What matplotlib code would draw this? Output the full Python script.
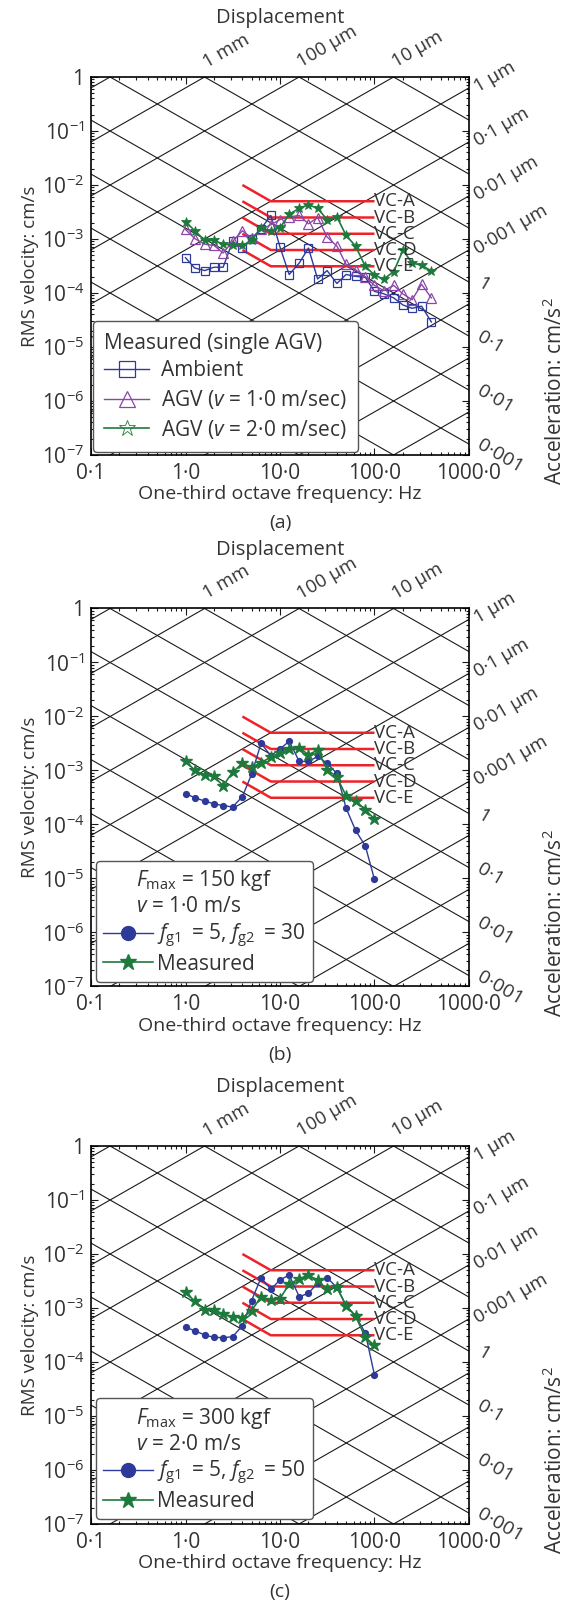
import matplotlib.pyplot as plt
import numpy as np
from matplotlib.ticker import LogLocator, FuncFormatter, NullFormatter

plt.rcParams['font.family'] = ['Open Sans', 'DejaVu Sans']
plt.rcParams['mathtext.fontset'] = 'custom'
plt.rcParams['mathtext.rm'] = 'Open Sans'
plt.rcParams['mathtext.it'] = 'Open Sans:italic'
plt.rcParams['mathtext.bf'] = 'Open Sans:bold'
plt.rcParams['text.color'] = '#333333'
plt.rcParams['axes.labelcolor'] = '#333333'
plt.rcParams['xtick.labelcolor'] = '#333333'
plt.rcParams['ytick.labelcolor'] = '#333333'

# one-third octave band centre frequencies (Hz)
freq = [1, 1.25, 1.6, 2, 2.5, 3.15, 4, 5, 6.3, 8, 10, 12.5, 16, 20, 25,
        31.5, 40, 50, 63, 80, 100, 125, 160, 200, 250, 315, 400]
freq_100 = freq[:21]

# (a) measured, single AGV  (RMS velocity, cm/s)
ambient = [4.5e-4, 2.9e-4, 2.6e-4, 3.0e-4, 3.0e-4, 9.0e-4, 6.8e-4, 9.9e-4, 1.55e-3,
           2.73e-3, 7.1e-4, 2.2e-4, 3.6e-4, 6.8e-4, 1.82e-4, 2.6e-4, 1.5e-4, 2.2e-4,
           2.03e-4, 1.95e-4, 1.07e-4, 9.7e-5, 8.1e-5, 6.0e-5, 5.2e-5, 5.7e-5, 2.9e-5]
agv_1 = [1.5e-3, 1.02e-3, 8.0e-4, 7.6e-4, 5.5e-4, 9.0e-4, 1.42e-3, 1.05e-3, 1.5e-3,
         1.83e-3, 2.29e-3, 2.57e-3, 2.73e-3, 1.91e-3, 2.5e-3, 1.09e-3, 7.4e-4, 3.4e-4,
         2.7e-4, 2.0e-4, 1.38e-4, 1.11e-4, 1.38e-4, 9.6e-5, 7.5e-5, 1.45e-4, 8.1e-5]
agv_2 = [2.1e-3, 1.43e-3, 9.4e-4, 9.4e-4, 8.1e-4, 7.6e-4, 7.6e-4, 9.4e-4, 1.58e-3,
         1.43e-3, 1.62e-3, 2.87e-3, 3.7e-3, 4.3e-3, 3.7e-3, 2.29e-3, 2.57e-3, 1.17e-3,
         7.4e-4, 3.1e-4, 2.15e-4, 1.8e-4, 2.5e-4, 6.2e-4, 3.6e-4, 3.26e-4, 2.57e-4]

# (b) Fmax = 150 kgf, v = 1.0 m/s
model_b = [3.74e-4, 3.14e-4, 2.71e-4, 2.41e-4, 2.24e-4, 2.11e-4, 3.28e-4, 8.5e-4,
           3.18e-3, 1.88e-3, 2.5e-3, 3.48e-3, 1.47e-3, 1.47e-3, 1.82e-3, 1.36e-3,
           8.8e-4, 2.02e-4, 7.8e-5, 4.0e-5, 9.6e-6]
meas_b = [1.51e-3, 1.01e-3, 8.1e-4, 7.8e-4, 5.2e-4, 9.3e-4, 1.36e-3, 1.14e-3, 1.4e-3,
          1.77e-3, 2.11e-3, 2.45e-3, 2.63e-3, 1.96e-3, 2.38e-3, 1.04e-3, 7.6e-4,
          3.39e-4, 2.71e-4, 1.88e-4, 1.26e-4]

# (c) Fmax = 300 kgf, v = 2.0 m/s
model_c = [4.4e-4, 3.8e-4, 3.16e-4, 2.86e-4, 2.82e-4, 2.94e-4, 4.7e-4, 1.37e-3,
           3.64e-3, 2.22e-3, 3.3e-3, 4.08e-3, 1.62e-3, 1.87e-3, 2.9e-3, 3.64e-3,
           2.4e-3, 1.12e-3, 7.1e-4, 3.45e-4, 5.7e-5]
meas_c = [2.01e-3, 1.33e-3, 9.3e-4, 9.3e-4, 7.7e-4, 6.9e-4, 6.6e-4, 8.9e-4, 1.61e-3,
          1.39e-3, 1.49e-3, 2.78e-3, 3.47e-3, 4.08e-3, 3.27e-3, 2.23e-3, 2.4e-3,
          1.11e-3, 7.1e-4, 2.85e-4, 2.03e-4]

# vibration criterion curves: flat velocity from 8 to 100 Hz, constant acceleration below 8 Hz
vc_names = ['VC-A', 'VC-B', 'VC-C', 'VC-D', 'VC-E']
vc_levels = [5e-3, 2.5e-3, 1.25e-3, 6.25e-4, 3.125e-4]
vc_freq = [4, 8, 100]

# tripartite grid: constant displacement (cm) and constant acceleration (cm/s^2)
disp_lines = 10.0 ** np.arange(-11, 3)
acc_lines = 10.0 ** np.arange(-5, 7)
top_labels = {'1 mm': 0.1, '100 µm': 0.01, '10 µm': 0.001}
disp_labels = {'1 µm': 1e-4, '0·1 µm': 1e-5, '0·01 µm': 1e-6, '0·001 µm': 1e-7}
acc_labels = {'1': 1.0, '0·1': 0.1, '0·01': 0.01, '0·001': 0.001}

xtick_text = {0.1: '0·1', 1: '1·0', 10: '10·0', 100: '100·0', 1000: '1000·0'}

blue = '#2d3a9a'
purple = '#8a46a8'
green = '#1d7a3c'
red = '#ee2229'
ink = '#333333'
fs = 15


def yfmt(v, pos):
    e = int(round(np.log10(v)))
    if e == 0:
        return '1'
    return r'10$^{%d}$' % e


def xfmt(v, pos):
    for k, s in xtick_text.items():
        if abs(v - k) < 1e-9 * max(k, 1):
            return s
    return ''


def base_panel(ax, tag):
    ax.set_xscale('log')
    ax.set_yscale('log')
    ax.set_xlim(0.1, 1000)
    ax.set_ylim(1e-7, 1)

    fx = np.array([0.1, 1000.0])
    for d in disp_lines:
        ax.plot(fx, 2 * np.pi * fx * d, color='#1a1a1a', lw=0.8, zorder=1)
    for a in acc_lines:
        ax.plot(fx, a / (2 * np.pi * fx), color='#1a1a1a', lw=0.8, zorder=1)

    for name, lev in zip(vc_names, vc_levels):
        vv = [lev * 8 / f if f < 8 else lev for f in vc_freq]
        ax.plot(vc_freq, vv, color=red, lw=1.8, zorder=2, solid_capstyle='butt')
        ax.annotate(name, xy=(100, lev), xytext=(0, 0), textcoords='offset points',
                    ha='left', va='center', fontsize=13.5, color=ink, zorder=5)

    ax.xaxis.set_major_locator(LogLocator(base=10, numticks=10))
    ax.xaxis.set_minor_locator(LogLocator(base=10, subs=np.arange(2, 10), numticks=100))
    ax.yaxis.set_major_locator(LogLocator(base=10, numticks=20))
    ax.yaxis.set_minor_locator(LogLocator(base=10, subs=np.arange(2, 10), numticks=100))
    ax.xaxis.set_major_formatter(FuncFormatter(xfmt))
    ax.yaxis.set_major_formatter(FuncFormatter(yfmt))
    ax.xaxis.set_minor_formatter(NullFormatter())
    ax.yaxis.set_minor_formatter(NullFormatter())
    ax.tick_params(which='both', direction='in', top=True, right=True, width=0.8,
                   color='#1a1a1a')
    ax.tick_params(which='major', length=5, labelsize=fs)
    ax.tick_params(axis='x', which='major', pad=5.5)
    ax.tick_params(axis='y', which='major', pad=5)
    ax.tick_params(which='minor', length=2.5)
    for sp in ax.spines.values():
        sp.set_linewidth(1.2)

    ax.set_xlabel('One-third octave frequency: Hz', fontsize=14, labelpad=1)
    ax.set_ylabel('RMS velocity: cm/s', fontsize=13.5, labelpad=2)

    ax.text(0.5, 1.155, 'Displacement', transform=ax.transAxes, ha='center',
            va='center', fontsize=14.5)
    for s, d in top_labels.items():
        ax.annotate(s, xy=(1 / (2 * np.pi * d), 1), xytext=(3, 4),
                    textcoords='offset points', ha='left', va='bottom',
                    rotation=30, rotation_mode='anchor', fontsize=13.5,
                    annotation_clip=False)
    for s, d in disp_labels.items():
        ax.annotate(s, xy=(1000, 2 * np.pi * 1000 * d), xytext=(5, 0),
                    textcoords='offset points', ha='left', va='center',
                    rotation=30, rotation_mode='anchor', fontsize=13.5,
                    annotation_clip=False)
    for s, a in acc_labels.items():
        ax.annotate(s, xy=(1000, a / (2 * np.pi * 1000)), xytext=(7, 0),
                    textcoords='offset points', ha='left', va='center',
                    rotation=-30, rotation_mode='anchor', fontsize=14,
                    annotation_clip=False)
    ax.text(1.228, 0.168, 'Acceleration: cm/s$^2$', transform=ax.transAxes,
            rotation=90, ha='center', va='center', fontsize=fs)
    ax.text(0.5, -0.18, tag, transform=ax.transAxes, ha='center', va='center',
            fontsize=14)


fig = plt.figure(figsize=(5.66, 16.02), dpi=100)
left, width, height = 0.1608, 0.6678, 0.23596
ax_a = fig.add_axes([left, 0.71598, width, height])
ax_b = fig.add_axes([left, 0.38421, width, height])
ax_c = fig.add_axes([left, 0.04869, width, height])

# (a)
base_panel(ax_a, '(a)')
ax_a.plot(freq, ambient, '-s', color=blue, mfc='none', ms=6, mew=0.9, lw=1,
          zorder=3, label='Ambient')
ax_a.plot(freq, agv_1, '-^', color=purple, mfc='none', ms=6.5, mew=0.9, lw=1,
          zorder=3, label='AGV ($v$ = 1·0 m/sec)')
ax_a.plot(freq, agv_2, '-*', color=green, ms=7, mew=0.6, lw=1.2,
          zorder=4, label='AGV ($v$ = 2·0 m/sec)')
leg = ax_a.legend(loc='lower left', bbox_to_anchor=(0.005, 0.008), borderaxespad=0,
                  title='Measured (single AGV)', title_fontsize=fs, fontsize=fs,
                  alignment='left', fancybox=True, framealpha=1, edgecolor='#555555',
                  handlelength=2.15, handletextpad=0.55, labelspacing=0.32,
                  borderpad=0.55)
leg.get_frame().set_linewidth(1.0)
leg.set_zorder(10)
for h in leg.legend_handles:
    h.set_markersize(12)
leg.legend_handles[2].set_markerfacecolor('none')

# (b) and (c)
panels = [
    (ax_b, '(b)', model_b, meas_b, '$F_{\\mathrm{max}}$ = 150 kgf\n$v$ = 1·0 m/s',
     '$f_{\\mathrm{g1}}\\,$ = 5, $f_{\\mathrm{g2}}\\,$ = 30'),
    (ax_c, '(c)', model_c, meas_c, '$F_{\\mathrm{max}}$ = 300 kgf\n$v$ = 2·0 m/s',
     '$f_{\\mathrm{g1}}\\,$ = 5, $f_{\\mathrm{g2}}\\,$ = 50'),
]
for ax, tag, model, meas, title, lab in panels:
    base_panel(ax, tag)
    ax.plot(freq_100, model, '-o', color=blue, ms=4.2, lw=1, zorder=3, label=lab)
    ax.plot(freq_100, meas, '-*', color=green, ms=9, lw=1.2, zorder=4,
            label='Measured')
    leg = ax.legend(loc='lower left', bbox_to_anchor=(0.013, 0.012), borderaxespad=0,
                    title=title, title_fontsize=fs, fontsize=fs, fancybox=True,
                    framealpha=1, edgecolor='#555555', handlelength=2.4,
                    handletextpad=0.2, labelspacing=0.2, borderpad=0.35)
    leg.get_frame().set_linewidth(1.0)
    leg.set_zorder(10)
    leg.legend_handles[0].set_markersize(10)
    leg.legend_handles[1].set_markersize(12)

fig.savefig('out.png', dpi=100)
